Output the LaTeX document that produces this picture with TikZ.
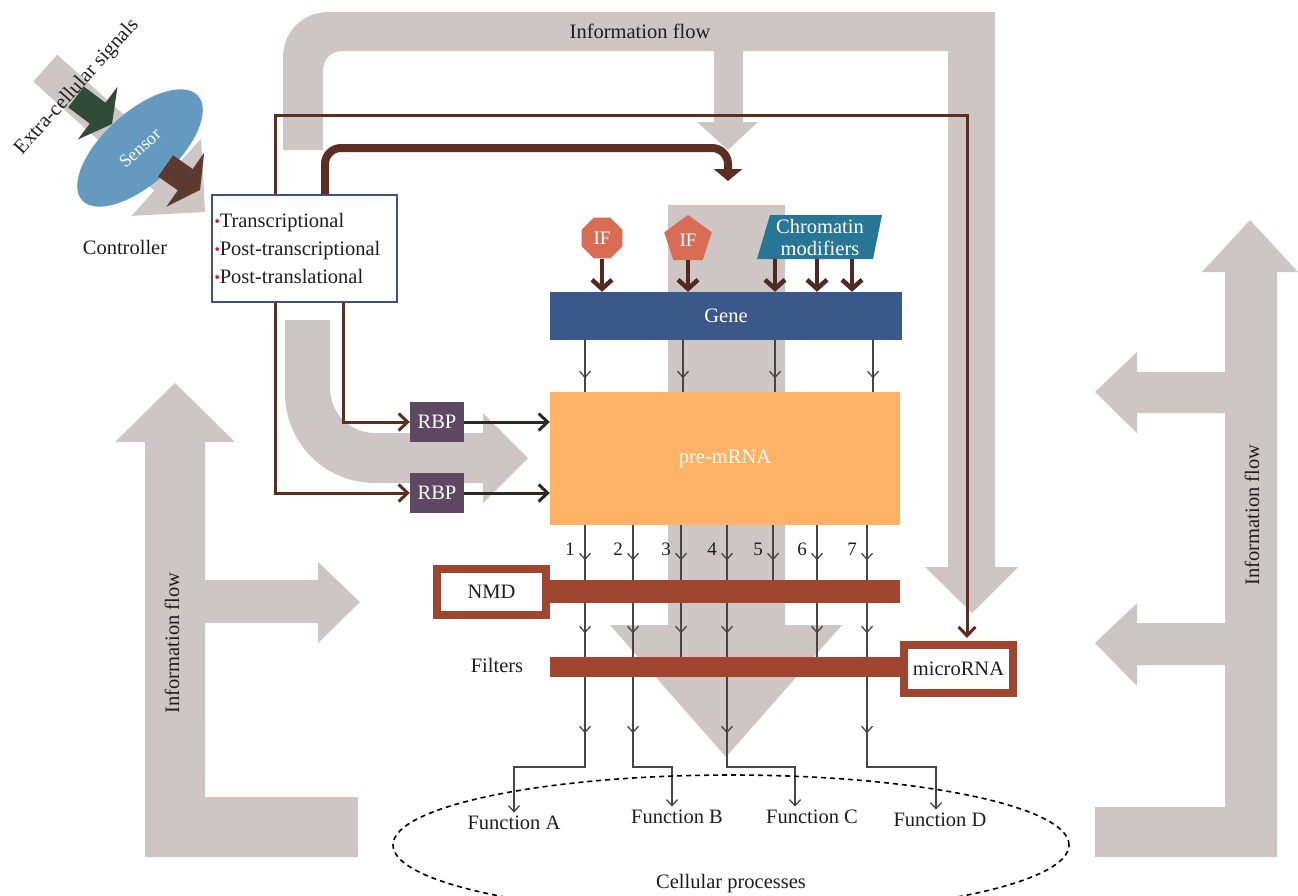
\documentclass[tikz,border=0pt]{standalone}
\usepackage{fontspec}
\setmainfont{Liberation Serif}
\usetikzlibrary{arrows.meta,shapes.geometric,calc}
\definecolor{infogray}{RGB}{206,198,196}
\definecolor{genecol}{RGB}{59,88,138}
\definecolor{precol}{RGB}{253,178,102}
\definecolor{rbpcol}{RGB}{94,72,98}
\definecolor{ifcol}{RGB}{216,108,84}
\definecolor{chromcol}{RGB}{40,118,150}
\definecolor{rust}{RGB}{160,70,48}
\definecolor{dbrown}{RGB}{80,42,32}
\definecolor{cbrown}{RGB}{92,46,34}
\definecolor{sensorcol}{RGB}{100,153,192}
\definecolor{sgreen}{RGB}{47,74,55}
\definecolor{sbrown}{RGB}{92,58,46}
\definecolor{ctrlblue}{RGB}{62,82,125}
\definecolor{lineg}{RGB}{70,70,70}
\definecolor{darkln}{RGB}{45,40,40}
\definecolor{txtc}{RGB}{30,30,30}
\newcommand\redbul{\raisebox{1pt}{\textcolor{red}{\fontsize{15}{15}\selectfont\textbullet}}}
\tikzset{
 flow/.style={fill=infogray},
 thinln/.style={draw=lineg, line width=1.3pt},
 tb/.style={-{Straight Barb[length=6pt,width=11pt]}},
 brarr/.style={draw=dbrown, line width=4.5pt, -{Straight Barb[length=9pt,width=20pt]}},
 ctrlln/.style={draw=cbrown, line width=3pt, -{Straight Barb[length=9pt,width=17pt]}},
 rbparr/.style={draw=darkln, line width=3pt, -{Straight Barb[length=9pt,width=17pt]}},
 thk/.style={draw=cbrown, line width=8pt, rounded corners=16pt, -{Triangle[length=12pt,width=28pt]}},
 rustbox/.style={draw=rust, line width=8pt, fill=white, inner sep=0pt, minimum width=109pt},
 bar/.style={fill=rust, inner sep=0pt},
 rbpbox/.style={fill=rbpcol, text=white, minimum width=54pt, minimum height=40pt, inner sep=0pt},
 iftxt/.style={fill=ifcol, text=white, regular polygon, inner sep=0pt, font=\fontsize{19}{19}\selectfont},
 ctrlbox/.style={draw=ctrlblue, line width=1.5pt, fill=white, minimum width=185pt, minimum height=107pt, align=left, text width=180pt, inner sep=2pt, font=\fontsize{20.5}{28}\selectfont},
 numlab/.style={font=\fontsize{19}{19}\selectfont},
}
\begin{document}
\begin{tikzpicture}[x=1pt,y=-1pt, font=\fontsize{20.5}{24}\selectfont, every node/.style={text=txtc}]
\useasboundingbox (0,0) rectangle (1298,895);
\clip (0,0) rectangle (1298,895);

% ---------- gray information-flow arrows ----------
\fill[flow] (283,150) -- (283,57) .. controls (283,32) and (303,12) .. (328,12) -- (995,12) -- (995,567) -- (1018,567) -- (972,613) -- (925,567) -- (948,567) -- (948,51) -- (743,51) -- (743,122) -- (758,122) -- (728,150) -- (697,122) -- (714,122) -- (714,51) -- (343,51) .. controls (331,51) and (323,59) .. (323,71) -- (323,150) -- cycle;
\node (iftop) at (640,31) {Information flow};

\fill[flow] (668,205) -- (668,625) -- (610,625) -- (726,757) -- (842,625) -- (785,625) -- (785,205) -- cycle;

\fill[flow] (285,320) -- (285,393) .. controls (285,443) and (325,483) .. (375,483) -- (483,483) -- (483,503) -- (528,458) -- (483,413) -- (483,433) -- (375,433) .. controls (350,433) and (330,413) .. (330,388) -- (330,320) -- cycle;

\fill[flow] (145,857) -- (145,442) -- (115,442) -- (175,383) -- (235,442) -- (205,442) -- (205,580) -- (318,580) -- (318,562) -- (360,602) -- (318,643) -- (318,623) -- (205,623) -- (205,797) -- (358,797) -- (358,857) -- cycle;
\node[rotate=90] (ifl) at (172,643) {Information flow};

\fill[flow] (1277,857) -- (1277,272) -- (1298,272) -- (1250,220) -- (1202,272) -- (1225,272) -- (1225,372) -- (1137,372) -- (1137,352) -- (1095,392) -- (1137,433) -- (1137,413) -- (1225,413) -- (1225,623) -- (1137,623) -- (1137,603) -- (1095,643) -- (1137,686) -- (1137,665) -- (1225,665) -- (1225,807) -- (1095,807) -- (1095,857) -- cycle;
\node[rotate=90] (ifr) at (1252,515) {Information flow};

% ---------- sensor ----------
\begin{scope}[shift={(205,212)},rotate=-42]
\fill[flow] (0,0) -- (-52,52) -- (-52,18) -- (-215,18) -- (-215,-18) -- (-52,-18) -- (-52,-52) -- cycle;
\end{scope}
\begin{scope}[shift={(112,124)},rotate=-37]
\fill[sgreen] (0,0) -- (-18,33) -- (-18,13) -- (-45,13) -- (-45,-13) -- (-18,-13) -- (-18,-33) -- cycle;
\end{scope}
\node[ellipse, fill=sensorcol, minimum width=156pt, minimum height=72pt, rotate=42, text=white, font=\fontsize{18}{18}\selectfont] (sensor) at (140,148) {Sensor};
\begin{scope}[shift={(200,190)},rotate=-35]
\fill[sbrown] (0,0) -- (-18,33) -- (-18,13) -- (-42,13) -- (-42,-13) -- (-18,-13) -- (-18,-33) -- cycle;
\end{scope}
\node[rotate=48] (extra) at (77,87) {Extra-cellular signals};
\node (ctrllab) at (125,247) {Controller};

% ---------- controller box ----------
\node[ctrlbox] (ctrl) at (304.5,248.5) {\redbul Transcriptional\\\redbul Post-transcriptional\\\redbul Post-translational};

% ---------- gene, pre-mRNA ----------
\node[fill=genecol, text=white, minimum width=352pt, minimum height=48pt, inner sep=0pt] (gene) at (726,316) {Gene};
\node[fill=precol, text=white, minimum width=350pt, minimum height=133pt, inner sep=0pt] (pre) at (725,458.5) {pre-mRNA};
\node[iftxt, regular polygon sides=8, minimum size=44pt] (if1) at (602,238) {IF};
\node[iftxt, regular polygon sides=5, minimum size=50pt] (if2) at (688,240) {IF};
\fill[chromcol] (770,215) -- (882,215) -- (873,259) -- (757,259) -- cycle;
\node[text=white, align=center, minimum height=44pt, inner sep=0pt, font=\fontsize{20.5}{22}\selectfont] (chrom) at (820,237) {Chromatin\\modifiers};

\coordinate (h1) at (775,0);
\coordinate (h2) at (817,0);
\coordinate (h3) at (852,0);
\draw[brarr] (if1.south) -- (gene.north -| if1.south);
\draw[brarr] (if2.south) -- (gene.north -| if2.south);
\foreach \h in {h1,h2,h3} \draw[brarr] (chrom.south -| \h) -- (gene.north -| \h);

% gene -> pre-mRNA
\coordinate (g1) at (585,0);
\coordinate (g2) at (683,0);
\coordinate (g3) at (775,0);
\coordinate (g4) at (873,0);
\foreach \c in {g1,g2,g3,g4} {
  \draw[thinln] (gene.south -| \c) -- (pre.north -| \c);
  \draw[thinln,tb] (gene.south -| \c) -- ++(0,38);
}

% ---------- RBP ----------
\node[rbpbox] (rbp1) at (437,422) {RBP};
\node[rbpbox] (rbp2) at (437,493) {RBP};
\draw[rbparr] (rbp1.east) -- (rbp1.east -| pre.west);
\draw[rbparr] (rbp2.east) -- (rbp2.east -| pre.west);

% ---------- controller connectors ----------
\coordinate (cm) at (275,115);
\coordinate (mtop) at (967,115);
\coordinate (cr) at (343,0);
\coordinate (tk) at (325,148);
\coordinate (tkend) at (728,181);
\draw[ctrlln] (ctrl.south -| cm) |- (rbp2.west);
\draw[ctrlln] (ctrl.south -| cr) |- (rbp1.west);
\draw[thk] (ctrl.north -| tk) -- (tk) -- (tk -| tkend) -- (tkend);

% ---------- NMD, filters, microRNA ----------
\node[bar, minimum width=352pt, minimum height=23pt] (nmdbar) at (724,591.5) {};
\node[rustbox, minimum height=46pt] (nmd) at (491.5,592) {NMD};
\node[bar, minimum width=355pt, minimum height=20pt] (filt) at (727.5,667) {};
\node[rustbox, minimum height=48pt] (mirna) at (958.5,669) {microRNA};
\node (filtlab) at (497,665) {Filters};

\draw[ctrlln, shorten >=3pt] (ctrl.north -| cm) -- (cm) -- (mtop) -- (mirna.north -| mtop);

% transcripts
\coordinate (k1) at (585,0);
\coordinate (k2) at (633,0);
\coordinate (k3) at (681,0);
\coordinate (k4) at (727,0);
\coordinate (k5) at (773,0);
\coordinate (k6) at (817,0);
\coordinate (k7) at (867,0);
\foreach \c/\n in {k1/1,k2/2,k3/3,k4/4,k5/5,k6/6,k7/7} {
  \draw[thinln] (pre.south -| \c) -- (nmdbar.north -| \c);
  \draw[thinln,tb] (pre.south -| \c) -- ++(0,35);
  \node[numlab, anchor=east, inner sep=1pt] at ($(pre.south -| \c)+(-9,24)$) {\n};
}
\foreach \c in {k1,k2,k3,k4,k6,k7} {
  \draw[thinln] (nmdbar.south -| \c) -- (filt.north -| \c);
  \draw[thinln,tb] (nmdbar.south -| \c) -- ++(0,30);
}

% ---------- functions ----------
\node (fa) at (514,823) {Function A};
\node (fb) at (677,817) {Function B};
\node (fc) at (812,817) {Function C};
\node (fd) at (940,820) {Function D};
\coordinate (elb) at (0,767);
\coordinate (e1) at (514,0);
\coordinate (e2) at (672,0);
\coordinate (e3) at (795,0);
\coordinate (e4) at (936,0);
\foreach \c/\f/\e in {k1/fa/e1,k2/fb/e2,k4/fc/e3,k7/fd/e4} {
  \draw[thinln,tb] (filt.south -| \c) -- ++(0,56);
  \draw[thinln,tb] (filt.south -| \c) -- (\c |- elb) -| (\f.north -| \e);
}

\node[ellipse, draw=black, line width=1.6pt, dash pattern=on 5pt off 4pt, minimum width=676pt, minimum height=140pt] (cell) at (731,845) {};
\node (celllab) at (731,884) {Cellular processes};
\end{tikzpicture}
\end{document}
